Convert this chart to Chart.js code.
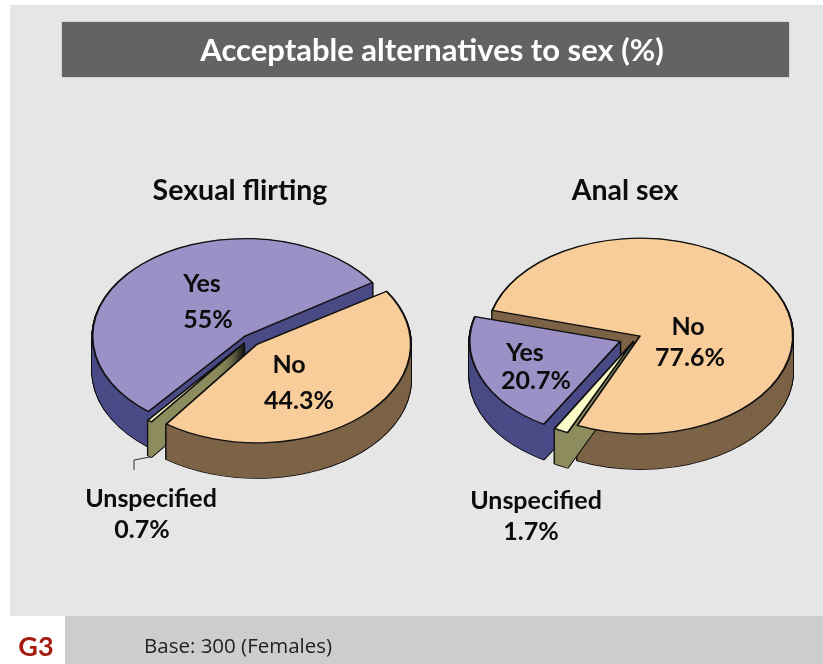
<!DOCTYPE html>
<html><head><meta charset="utf-8">
<style>
html,body{margin:0;padding:0;background:#fff;width:823px;height:664px;overflow:hidden}
#panel{position:absolute;left:10px;top:5px;width:813px;height:611px;background:#e6e6e6}
#bar{position:absolute;left:62px;top:22px;width:727px;height:55px;background:#636363;box-shadow:0 0 1px #888}
#foot{position:absolute;left:65px;top:616px;width:758px;height:48px;background:#cdcdcd}
canvas{position:absolute}
.t{position:absolute;transform:translate(-50%,-50%);white-space:nowrap;font-family:Lato,sans-serif;font-weight:700;color:#0c0c0c;font-size:25px;line-height:1}
svg{position:absolute;left:0;top:0}
</style></head><body>
<div id="panel"></div><div id="bar"></div><div id="foot"></div>
<canvas id="c1" width="340" height="340" style="left:79px;top:169px"></canvas>
<canvas id="c2" width="340" height="340" style="left:467px;top:167px"></canvas>
<svg width="823" height="664"><polyline points="134,470 134,460 150,457" fill="none" stroke="#333" stroke-width="1"/></svg>
<div id="labels"></div>
<script src="https://cdn.jsdelivr.net/npm/chart.js@4"></script>
<script>
const pieTitle = "Acceptable alternatives to sex (%)";
const footNote = "Base: 300 (Females)";
const figureId = "G3";
const categories = ["No", "Unspecified", "Yes"];
const flirtingTitle = "Sexual flirting";
const flirtingValues = [44.3, 0.7, 55];
const analTitle = "Anal sex";
const analValues = [77.6, 1.7, 20.7];
const topColors = ["#f8cd9a", "#fbfdc8", "#9b91c6"];
const wallColors = ["#7d6347", "#8c8c5e", "#4b4b87"];

const SQUASH = 0.64, DEPTH = 35;
const extrude = {
  id: 'extrude',
  beforeDatasetsDraw(chart, args, opts) {
    const ctx = chart.ctx, cy = (chart.chartArea.top + chart.chartArea.bottom) / 2;
    ctx.save();
    ctx.translate(0, cy); ctx.scale(1, SQUASH); ctx.translate(0, -cy);
    const arcs = chart.getDatasetMeta(0).data;
    const layers = Math.round(DEPTH / SQUASH);
    for (const i of opts.order) {
      const a = arcs[i], saved = a.options;
      const pass = (over) => {
        a.options = Object.assign({}, saved, over);
        for (let d = layers; d >= 1; d--) {
          ctx.save(); ctx.translate(0, d); a.draw(ctx); ctx.restore();
        }
      };
      pass({ backgroundColor: '#111', borderColor: '#111', borderWidth: 2.4 });
      pass({ backgroundColor: wallColors[i], borderWidth: 0 });
      a.options = saved;
    }
  },
  afterDatasetsDraw(chart) { chart.ctx.restore(); }
};
function pie(id, values, rotation, radius, offsets, order) {
  return new Chart(document.getElementById(id), {
    type: 'pie',
    data: { labels: categories, datasets: [{ data: values, backgroundColor: topColors, borderColor: '#111', borderWidth: 2, borderJoinStyle: 'round', offset: offsets }] },
    options: {
      responsive: false, animation: false, radius, rotation,
      layout: { padding: 0 },
      plugins: { legend: { display: false }, tooltip: { enabled: false }, extrude: { order } }
    },
    plugins: [extrude]
  });
}
pie('c1', flirtingValues, 57, 146.5, [46, 32, 24], [2, 1, 0]);
pie('c2', analValues, 285, 149.7, [13, 32, 73], [0, 2, 1]);

const texts = [
  [pieTitle, 432, 49, 31, '#fff'],
  [flirtingTitle, 240, 189, 28.5], [analTitle, 625, 189, 28.5],
  [categories[2], 202, 282], [flirtingValues[2] + '%', 208, 318],
  [categories[0], 289, 363], [flirtingValues[0] + '%', 299, 399],
  [categories[1], 151, 497], [flirtingValues[1] + '%', 142, 528],
  [categories[0], 688, 325], [analValues[0] + '%', 690, 356],
  [categories[2], 525, 351], [analValues[2] + '%', 536, 379],
  [categories[1], 536, 499], [analValues[1] + '%', 531, 530],
  [figureId, 36, 645, 27, '#a51c10'],
];
const host = document.getElementById('labels');
for (const [s, x, y, size, col] of texts) {
  const d = document.createElement('div'); d.className = 't'; d.textContent = s;
  d.style.left = x + 'px'; d.style.top = y + 'px';
  if (size) d.style.fontSize = size + 'px';
  if (col) d.style.color = col;
  host.appendChild(d);
}
const f = document.createElement('div'); f.className = 't'; f.textContent = footNote;
f.style.cssText = 'left:144px;top:645px;transform:translateY(-50%);font-size:20.5px;font-weight:400;font-family:"Open Sans",sans-serif;color:#222';
host.appendChild(f);
</script>
</body></html>
